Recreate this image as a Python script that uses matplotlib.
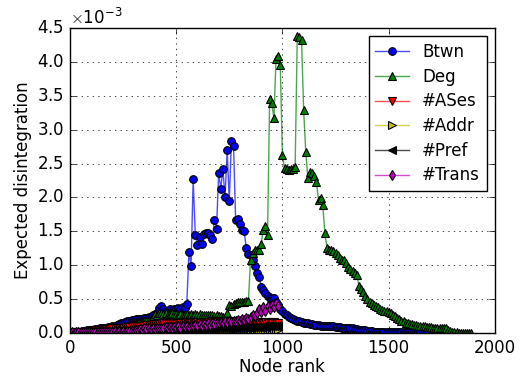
import numpy as np
import matplotlib
matplotlib.use("Agg")
import matplotlib.pyplot as plt

plt.style.use("classic")

# values in units of 1e-3, one value every 10 ranks
btwn = [0.00, 0.00, 0.01, 0.01, 0.02, 0.02, 0.03, 0.03, 0.04, 0.04,
        0.05, 0.05, 0.06, 0.06, 0.07, 0.07, 0.08, 0.08, 0.09, 0.09,
        0.10, 0.11, 0.12, 0.13, 0.14, 0.15, 0.16, 0.17, 0.18, 0.19,
        0.19, 0.20, 0.20, 0.21, 0.21, 0.22, 0.22, 0.23, 0.24, 0.26,
        0.28, 0.30, 0.37, 0.40, 0.35, 0.32, 0.33, 0.35, 0.34, 0.36,
        0.35, 0.37, 0.36, 0.38, 0.37, 0.43, 1.19, 0.99, 2.27, 1.44,
        1.30, 1.41, 1.31, 1.46, 1.47, 1.47, 1.44, 1.39, 1.67, 1.54,
        2.36, 2.13, 2.42, 2.00, 2.70, 1.95, 2.84, 2.76, 1.66, 1.68,
        1.61, 1.52, 1.50, 1.25, 1.17, 1.15, 1.08, 0.99, 0.89, 0.83,
        0.68, 0.64, 0.59, 0.54, 0.52, 0.52, 0.51, 0.46, 0.41, 0.36,
        0.32, 0.28, 0.26, 0.24, 0.22, 0.21, 0.19, 0.18, 0.17, 0.16,
        0.15, 0.15, 0.14, 0.13, 0.13, 0.12, 0.12, 0.12, 0.11, 0.11,
        0.11, 0.10, 0.10, 0.10, 0.10, 0.09, 0.09, 0.09, 0.08, 0.08,
        0.08, 0.07, 0.07, 0.07, 0.06, 0.06, 0.05, 0.05, 0.04, 0.04,
        0.03, 0.03, 0.03, 0.02, 0.02, 0.02, 0.02, 0.02, 0.02, 0.02,
        0.02, 0.02, 0.02, 0.02, 0.02, 0.02, 0.01, 0.01, 0.01, 0.01,
        0.01, 0.01, 0.01, 0.01, 0.01, 0.01, 0.01, 0.01, 0.01, 0.01,
        0.01, 0.00, 0.00, 0.00]

deg = [0.00, 0.00, 0.01, 0.01, 0.01, 0.02, 0.02, 0.02, 0.03, 0.03,
       0.03, 0.04, 0.04, 0.05, 0.05, 0.05, 0.06, 0.06, 0.07, 0.07,
       0.08, 0.08, 0.09, 0.09, 0.10, 0.10, 0.11, 0.11, 0.12, 0.12,
       0.13, 0.13, 0.14, 0.15, 0.16, 0.17, 0.18, 0.19, 0.21, 0.24,
       0.28, 0.27, 0.29, 0.30, 0.28, 0.29, 0.27, 0.28, 0.29, 0.28,
       0.28, 0.27, 0.28, 0.27, 0.28, 0.28, 0.27, 0.28, 0.27, 0.28,
       0.27, 0.28, 0.27, 0.27, 0.26, 0.27, 0.26, 0.26, 0.25, 0.26,
       0.25, 0.25, 0.24, 0.22, 0.30, 0.41, 0.40, 0.43, 0.44, 0.45,
       0.45, 0.46, 0.46, 0.47, 0.47, 1.08, 1.18, 1.22, 1.23, 1.22,
       1.32, 1.52, 1.58, 1.45, 3.45, 3.39, 3.17, 4.05, 4.09, 3.95,
       2.63, 2.43, 2.42, 2.41, 2.42, 2.42, 2.45, 4.38, 4.37, 4.33,
       3.29, 2.67, 2.28, 2.38, 2.36, 2.31, 2.23, 1.96, 1.99, 1.89,
       1.47, 1.25, 1.23, 1.23, 1.21, 1.18, 1.15, 1.10, 1.08, 1.07,
       1.04, 0.98, 0.95, 0.92, 0.88, 0.86, 0.70, 0.65, 0.60, 0.54,
       0.50, 0.46, 0.44, 0.42, 0.40, 0.38, 0.36, 0.34, 0.33, 0.32,
       0.31, 0.29, 0.27, 0.25, 0.22, 0.20, 0.18, 0.17, 0.15, 0.14,
       0.13, 0.13, 0.12, 0.12, 0.11, 0.11, 0.10, 0.10, 0.09, 0.09,
       0.09, 0.08, 0.08, 0.08, 0.08, 0.07, 0.08, 0.07, 0.05, 0.03,
       0.02, 0.01, 0.01, 0.00, 0.00, 0.00, 0.00, 0.00, 0.00, 0.00]

ases = [0.00, 0.00, 0.01, 0.01, 0.01, 0.02, 0.02, 0.02, 0.03, 0.03,
        0.03, 0.04, 0.04, 0.04, 0.05, 0.05, 0.05, 0.06, 0.06, 0.06,
        0.07, 0.07, 0.07, 0.08, 0.08, 0.08, 0.09, 0.09, 0.09, 0.10,
        0.10, 0.10, 0.11, 0.11, 0.11, 0.12, 0.12, 0.12, 0.12, 0.13,
        0.13, 0.13, 0.13, 0.14, 0.14, 0.14, 0.14, 0.14, 0.15, 0.15,
        0.15, 0.15, 0.14, 0.15, 0.15, 0.16, 0.15, 0.15, 0.16, 0.15,
        0.16, 0.15, 0.16, 0.16, 0.15, 0.16, 0.16, 0.17, 0.16, 0.16,
        0.17, 0.16, 0.16, 0.17, 0.16, 0.17, 0.16, 0.17, 0.16, 0.17,
        0.16, 0.17, 0.16, 0.17, 0.16, 0.16, 0.17, 0.16, 0.16, 0.15,
        0.16, 0.15, 0.16, 0.15, 0.16, 0.15, 0.16, 0.15, 0.14]

addr = [0.00, 0.00, 0.00, 0.00, 0.00, 0.01, 0.00, 0.01, 0.00, 0.01,
        0.01, 0.01, 0.01, 0.01, 0.01, 0.01, 0.01, 0.01, 0.01, 0.01,
        0.01, 0.01, 0.01, 0.01, 0.02, 0.01, 0.02, 0.01, 0.02, 0.02,
        0.02, 0.02, 0.02, 0.02, 0.02, 0.02, 0.02, 0.02, 0.02, 0.02,
        0.02, 0.02, 0.02, 0.02, 0.02, 0.03, 0.02, 0.03, 0.02, 0.03,
        0.02, 0.03, 0.03, 0.03, 0.03, 0.03, 0.03, 0.03, 0.03, 0.03,
        0.03, 0.03, 0.03, 0.03, 0.03, 0.04, 0.03, 0.04, 0.03, 0.04,
        0.04, 0.04, 0.04, 0.04, 0.04, 0.04, 0.04, 0.04, 0.04, 0.04,
        0.04, 0.04, 0.04, 0.04, 0.04, 0.04, 0.04, 0.04, 0.04, 0.04,
        0.04, 0.04, 0.04, 0.04, 0.04, 0.04, 0.04, 0.04, 0.04]

pref = [0.00, 0.00, 0.00, 0.01, 0.01, 0.01, 0.01, 0.01, 0.01, 0.01,
        0.01, 0.01, 0.02, 0.01, 0.02, 0.02, 0.02, 0.02, 0.02, 0.02,
        0.02, 0.03, 0.02, 0.03, 0.03, 0.03, 0.03, 0.03, 0.03, 0.03,
        0.03, 0.04, 0.03, 0.04, 0.04, 0.04, 0.04, 0.04, 0.04, 0.04,
        0.04, 0.05, 0.04, 0.05, 0.05, 0.05, 0.05, 0.05, 0.05, 0.05,
        0.05, 0.06, 0.05, 0.06, 0.06, 0.06, 0.05, 0.06, 0.06, 0.06,
        0.06, 0.06, 0.07, 0.06, 0.07, 0.06, 0.07, 0.07, 0.07, 0.07,
        0.07, 0.07, 0.08, 0.07, 0.08, 0.07, 0.08, 0.08, 0.08, 0.08,
        0.08, 0.08, 0.09, 0.08, 0.09, 0.08, 0.09, 0.09, 0.09, 0.09,
        0.09, 0.10, 0.09, 0.10, 0.10, 0.10, 0.11, 0.10, 0.11]

trans = [0.00, 0.01, 0.00, 0.01, 0.01, 0.01, 0.01, 0.01, 0.01, 0.02,
         0.01, 0.02, 0.01, 0.02, 0.02, 0.02, 0.02, 0.02, 0.02, 0.02,
         0.02, 0.03, 0.02, 0.03, 0.02, 0.03, 0.02, 0.03, 0.03, 0.03,
         0.03, 0.05, 0.04, 0.06, 0.05, 0.07, 0.06, 0.07, 0.06, 0.07,
         0.06, 0.08, 0.07, 0.08, 0.07, 0.09, 0.07, 0.09, 0.08, 0.09,
         0.08, 0.10, 0.08, 0.10, 0.09, 0.11, 0.09, 0.11, 0.10, 0.12,
         0.10, 0.13, 0.11, 0.13, 0.12, 0.14, 0.12, 0.15, 0.13, 0.15,
         0.14, 0.16, 0.14, 0.17, 0.15, 0.18, 0.16, 0.18, 0.17, 0.19,
         0.18, 0.20, 0.19, 0.22, 0.20, 0.24, 0.27, 0.25, 0.30, 0.36,
         0.31, 0.38, 0.33, 0.40, 0.35, 0.41, 0.38, 0.44, 0.40]

series = [
    ("Btwn", btwn, "o", "b"),
    ("Deg", deg, "^", "g"),
    ("#ASes", ases, "v", "r"),
    ("#Addr", addr, ">", "y"),
    ("#Pref", pref, "<", "k"),
    ("#Trans", trans, "d", "m"),
]

fig = plt.figure(figsize=(5.22, 3.76), dpi=100)
ax = fig.add_axes([0.134, 0.1144, 0.814, 0.811])

for name, vals, mk, col in series:
    v = np.array(vals) * 1e-3
    rank = np.arange(len(v)) * 10
    rgba = matplotlib.colors.to_rgba(col, 0.7)
    ax.plot(rank, v, color=rgba, lw=1, marker=mk, ms=5.5,
            markerfacecolor=col, markeredgecolor="k", markeredgewidth=0.8,
            label=name)

ax.set_xlim(0, 2000)
ax.set_ylim(0, 4.5e-3)
ax.set_xticks([0, 500, 1000, 1500, 2000])
ax.ticklabel_format(style="sci", axis="y", scilimits=(0, 0), useMathText=True)
ax.grid(True)
ax.tick_params(labelsize=12)
ax.yaxis.get_offset_text().set_fontsize(12)
ax.set_xlabel("Node rank", fontsize=12, labelpad=1)
ax.set_ylabel("Expected disintegration", fontsize=12, labelpad=4)
ax.legend(loc="upper right", numpoints=1, fontsize=12, handlelength=2.0,
          handletextpad=0.8, labelspacing=0.4, borderpad=0.4,
          borderaxespad=0.5)

fig.savefig("out.png", dpi=100)
